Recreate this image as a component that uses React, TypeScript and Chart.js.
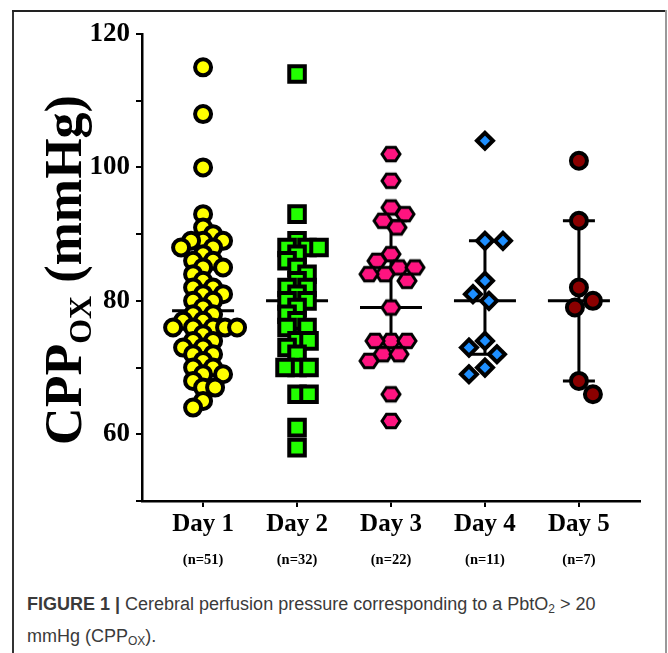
import React, { useEffect, useRef } from "react";
import { Chart, registerables } from "chart.js";

Chart.register(...registerables);

const dayLabels = ["Day 1", "Day 2", "Day 3", "Day 4", "Day 5"];
const nLabels = ["(n=51)", "(n=32)", "(n=22)", "(n=11)", "(n=7)"];
const yTicks = [50, 60, 70, 80, 90, 100, 110, 120];

const day1 = [115, 108, 100, 93, 91, 90, 89, 89, 89, 88, 88, 87, 86, 86, 85, 85, 84, 83, 82, 82, 81, 81, 80, 80, 79, 78, 78, 77, 77, 76, 76, 76, 76, 76, 75, 74, 74, 73, 73, 72, 72, 71, 70, 70, 69, 69, 68, 67, 67, 65, 64];
const day2 = [114, 93, 89, 88, 88, 88, 87, 86, 85, 84, 83, 82, 82, 81, 80, 80, 79, 78, 77, 76, 76, 74, 74, 73, 72, 70, 70, 70, 66, 66, 61, 58];
const day3 = [102, 98, 94, 93, 92, 91, 87, 86, 85, 85, 84, 84, 83, 79, 74, 74, 74, 72, 72, 71, 66, 62];
const day4 = [104, 89, 89, 83, 81, 80, 74, 73, 72, 70, 69];
const day5 = [101, 92, 82, 80, 79, 68, 66];

const medians = [78.5, 80, 79, 80, 80];
const lowerQ: (number | null)[] = [null, null, 73, 72, 68];
const upperQ: (number | null)[] = [null, null, 92, 89, 92];

const PX_X = 94;
const PX_Y = 6.67;

// greedy beeswarm: fine horizontal steps, nearest free spot, alternating side preference
function swarm(values: number[], step: number, minD: number): number[] {
  const order = values.map((_, i) => i).sort((a, b) => values[b] - values[a]);
  const placed: { x: number; y: number }[] = [];
  const out = new Array(values.length).fill(0);
  let side = 1;
  for (const i of order) {
    const y = values[i] * PX_Y;
    for (let k = 0; k < 200; k++) {
      const slot = k === 0 ? 0 : (k % 2 === 1 ? side : -side) * Math.ceil(k / 2);
      const x = slot * step;
      if (placed.every((p) => (p.x - x) ** 2 + (p.y - y) ** 2 >= minD * minD)) {
        placed.push({ x, y });
        out[i] = x / PX_X;
        if (x !== 0) side = x > 0 ? -1 : 1;
        break;
      }
    }
  }
  return out;
}

function makeHexagon(): HTMLCanvasElement {
  const c = document.createElement("canvas");
  c.width = 24;
  c.height = 20;
  const g = c.getContext("2d")!;
  const cx = 12, cy = 10, R = 9, h = 6.8;
  g.beginPath();
  g.moveTo(cx - R, cy);
  g.lineTo(cx - R / 2, cy - h);
  g.lineTo(cx + R / 2, cy - h);
  g.lineTo(cx + R, cy);
  g.lineTo(cx + R / 2, cy + h);
  g.lineTo(cx - R / 2, cy + h);
  g.closePath();
  g.fillStyle = "#FF1480";
  g.fill();
  g.lineWidth = 3;
  g.strokeStyle = "#000";
  g.lineJoin = "miter";
  g.stroke();
  return c;
}

const serif = '"Liberation Serif", "Times New Roman", serif';

export default function App() {
  const ref = useRef<HTMLCanvasElement>(null);

  useEffect(() => {
    if (!ref.current) return;
    const series = [day1, day2, day3, day4, day5];
    const offs = [
      swarm(day1, 2, 11),
      swarm(day2, 2, 12),
      swarm(day3, 2, 15),
      swarm(day4, 2, 17),
      swarm(day5, 2, 19),
    ];
    const hex = makeHexagon();
    const styles: any[] = [
      { pointStyle: "circle", pointRadius: 8, bg: "#FFFF00", bw: 4 },
      { pointStyle: "rect", pointRadius: 11, bg: "#22FF00", bw: 4 },
      { pointStyle: hex, pointRadius: 9, bg: "#FF1480", bw: 3 },
      { pointStyle: "rectRot", pointRadius: 8, bg: "#1E8FFF", bw: 4 },
      { pointStyle: "circle", pointRadius: 8, bg: "#8B0000", bw: 4 },
    ];

    const overlay = {
      id: "overlay",
      beforeDatasetsDraw(chart: any) {
        const { ctx, scales } = chart;
        const xs = scales.x, ys = scales.y;
        ctx.save();
        ctx.strokeStyle = "#000";
        ctx.lineWidth = 3;
        ctx.lineCap = "butt";
        for (let d = 0; d < 5; d++) {
          const cx = xs.getPixelForValue(d);
          const my = ys.getPixelForValue(medians[d]);
          ctx.beginPath();
          ctx.moveTo(cx - 31, my);
          ctx.lineTo(cx + 31, my);
          ctx.stroke();
          const lo = lowerQ[d], hi = upperQ[d];
          if (lo != null && hi != null) {
            const ly = ys.getPixelForValue(lo);
            const hy = ys.getPixelForValue(hi);
            ctx.beginPath();
            ctx.moveTo(cx, ly);
            ctx.lineTo(cx, hy);
            ctx.moveTo(cx - 16, ly);
            ctx.lineTo(cx + 16, ly);
            ctx.moveTo(cx - 16, hy);
            ctx.lineTo(cx + 16, hy);
            ctx.stroke();
          }
        }
        ctx.restore();
      },
      afterDraw(chart: any) {
        const { ctx, scales } = chart;
        const xs = scales.x;
        ctx.save();
        ctx.fillStyle = "#000";
        ctx.textAlign = "center";
        ctx.textBaseline = "middle";
        ctx.font = `bold 14.5px ${serif}`;
        for (let d = 0; d < 5; d++) {
          ctx.fillText(nLabels[d], xs.getPixelForValue(d), 560);
        }
        // y-axis title with subscript
        ctx.translate(64, 270);
        ctx.rotate(-Math.PI / 2);
        ctx.textAlign = "left";
        ctx.textBaseline = "alphabetic";
        const big = `bold 52px ${serif}`;
        const small = `bold 32px ${serif}`;
        ctx.font = big;
        const w1 = ctx.measureText("CPP").width;
        const w3 = ctx.measureText(" (mmHg)").width;
        ctx.font = small;
        const w2 = ctx.measureText("OX").width;
        let x = -(w1 + w2 + w3) / 2;
        const base = 17;
        ctx.font = big;
        ctx.fillText("CPP", x, base);
        x += w1;
        ctx.font = small;
        ctx.fillText("OX", x, base + 10);
        x += w2;
        ctx.font = big;
        ctx.fillText(" (mmHg)", x, base);
        ctx.restore();
      },
    };

    const chart = new Chart(ref.current, {
      type: "scatter",
      data: {
        datasets: series.map((vals, d) => ({
          label: dayLabels[d],
          data: vals.map((v, i) => ({ x: d + offs[d][i], y: v })),
          pointStyle: styles[d].pointStyle,
          pointRadius: styles[d].pointRadius,
          pointHoverRadius: styles[d].pointRadius,
          pointBackgroundColor: styles[d].bg,
          pointBorderColor: "#000",
          pointBorderWidth: styles[d].bw,
          pointHoverBorderWidth: styles[d].bw,
        })),
      },
      options: {
        animation: false,
        responsive: false,
        events: [],
        layout: { padding: { left: 0, top: 34, right: 28, bottom: 9 } },
        plugins: { legend: { display: false }, tooltip: { enabled: false } },
        scales: {
          x: {
            type: "linear",
            min: -0.65,
            max: 4.65,
            afterBuildTicks: (s: any) => {
              s.ticks = [0, 1, 2, 3, 4].map((v) => ({ value: v }));
            },
            afterFit: (s: any) => {
              s.height = 80;
            },
            grid: { drawOnChartArea: false, drawTicks: true, tickLength: 6, color: "#000", lineWidth: 2 },
            border: { display: true, color: "#000", width: 2.5 },
            ticks: {
              callback: (v: any) => dayLabels[Math.round(v)] ?? "",
              font: { family: serif, size: 25, weight: "bold" },
              color: "#000",
              padding: 3,
              maxRotation: 0,
              autoSkip: false,
            },
          },
          y: {
            type: "linear",
            min: 50,
            max: 120,
            afterBuildTicks: (s: any) => {
              s.ticks = yTicks.map((v) => ({ value: v }));
            },
            afterFit: (s: any) => {
              s.width = 142;
            },
            grid: { drawOnChartArea: false, drawTicks: true, tickLength: 6, color: "#000", lineWidth: 2 },
            border: { display: true, color: "#000", width: 2.5 },
            ticks: {
              callback: (v: any) => (v % 20 === 0 ? String(v) : ""),
              font: { family: serif, size: 27, weight: "bold" },
              color: "#000",
              padding: 6,
              autoSkip: false,
            },
          },
        },
      } as any,
      plugins: [overlay],
    });
    return () => chart.destroy();
  }, []);

  const subStyle = { fontSize: 12, verticalAlign: "-3px" };

  return (
    <div style={{ position: "absolute", left: 0, top: 0, width: 668, height: 653, background: "#fff", overflow: "hidden" }}>
      <canvas ref={ref} width={668} height={590} style={{ position: "absolute", left: 0, top: 0 }} />
      <div style={{ position: "absolute", left: 12, top: 10, width: 1.5, height: 643, background: "#333" }} />
      <div style={{ position: "absolute", left: 12, top: 10, width: 654, height: 1.5, background: "#222" }} />
      <div style={{ position: "absolute", left: 665, top: 10, width: 2, height: 643, background: "#999" }} />
      <div
        style={{
          position: "absolute",
          left: 27,
          top: 591,
          fontFamily: '"Liberation Sans", Arial, sans-serif',
          fontSize: 18,
          lineHeight: "27px",
          color: "#3a3a3a",
          whiteSpace: "nowrap",
        }}
      >
        <b>FIGURE 1 |</b> Cerebral perfusion pressure corresponding to a PbtO<sub style={subStyle}>2</sub> &gt; 20
        <br />
        mmHg (CPP<sub style={subStyle}>OX</sub>).
      </div>
    </div>
  );
}
